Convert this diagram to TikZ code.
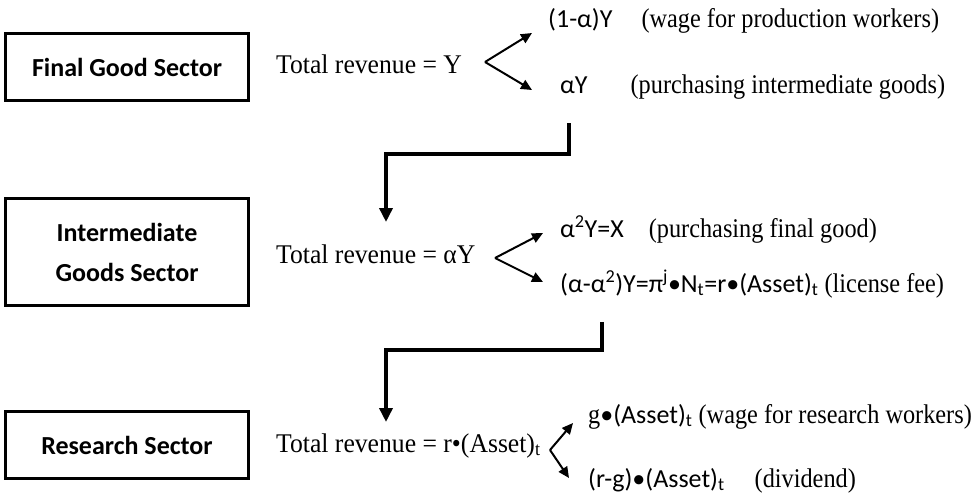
\documentclass[tikz,border=0pt]{standalone}
\usepackage{fontspec}
\setmainfont[FakeStretch=0.9]{Liberation Serif}
\setsansfont{Carlito}
\newfontfamily\revfont[FakeStretch=0.95]{Liberation Serif}
\usetikzlibrary{arrows.meta,positioning}

\newcommand\sv[1]{{\sffamily\fontsize{26}{30}\selectfont #1}}

\begin{document}
\begin{tikzpicture}[
    x=1pt, y=-1pt,
    sector/.style={rectangle, draw, line width=3.5pt,
                   minimum width=243pt, minimum height=67pt, align=center,
                   font=\sffamily\bfseries\fontsize{26}{40}\selectfont},
    rev/.style={inner sep=0pt, anchor=base west, font=\revfont\fontsize{27}{30}\selectfont},
    part/.style={inner sep=0pt, anchor=base west, font=\fontsize{27}{30}\selectfont},
    split/.style={-{Triangle[length=11pt, width=10pt]}, line width=2pt},
    flow/.style={-{Triangle[length=14pt, width=13pt]}, line width=4pt},
]
\useasboundingbox (0,0) rectangle (973,495);

%% Sectors
\node[sector] (fin) at (127,67) {Final Good Sector};
\node[sector, minimum height=107pt] (imd) at (127,252) {Intermediate\\Goods Sector};
\node[sector] (res) at (127,445) {Research Sector};

%% Revenues
\node[rev] (rev1) at (276,73)  {Total revenue = Y};
\node[rev] (rev2) at (276,263) {Total revenue = αY};
\node[rev] (rev3) at (276,452) {Total revenue = r•(Asset)\textsubscript{t}};

%% How each revenue is split
\node[part] (wage) at (548,28)  {\sv{(1-α)Y}\hspace{29pt}(wage for production workers)};
\node[part] (ay)   at (560,93)  {\sv{αY}\hspace{43pt}(purchasing intermediate goods)};
\node[part] (xfin) at (560,237) {\sv{α\textsuperscript{2}Y=X}\hspace{25pt}(purchasing final good)};
\node[part] (fee)  at (560,292) {\sv{(α-α\textsuperscript{2})Y=π\textsuperscript{j}•N\textsubscript{t}=r•(Asset)\textsubscript{t}} (license fee)};
\node[part] (rw)   at (588,423) {g\sv{•(Asset)\textsubscript{t}} (wage for research workers)};
\node[part] (div)  at (588,487) {\sv{(r-g)•(Asset)\textsubscript{t}}\hspace{30pt}(dividend)};

\coordinate (v1) at (485,62);  \coordinate (v1a) at (532,33);  \coordinate (v1b) at (532,90);
\coordinate (v2) at (495,258); \coordinate (v2a) at (543,233); \coordinate (v2b) at (543,282);
\coordinate (v3) at (550,450); \coordinate (v3a) at (573,423); \coordinate (v3b) at (569,478);

\foreach \a/\b in {v1/v1a, v1/v1b, v2/v2a, v2/v2b, v3/v3a, v3/v3b}
  \draw[split] (\a) -- (\b);

%% Flows down to the next sector
\coordinate (t2) at (386,222);
\coordinate (t3) at (386,422);
\draw[flow] (ay.south west) ++(9,24) -- ++(0,31) -| (t2);
\draw[flow] (fee.south west) ++(42,24) -- ++(0,28) -| (t3);

\end{tikzpicture}
\end{document}
